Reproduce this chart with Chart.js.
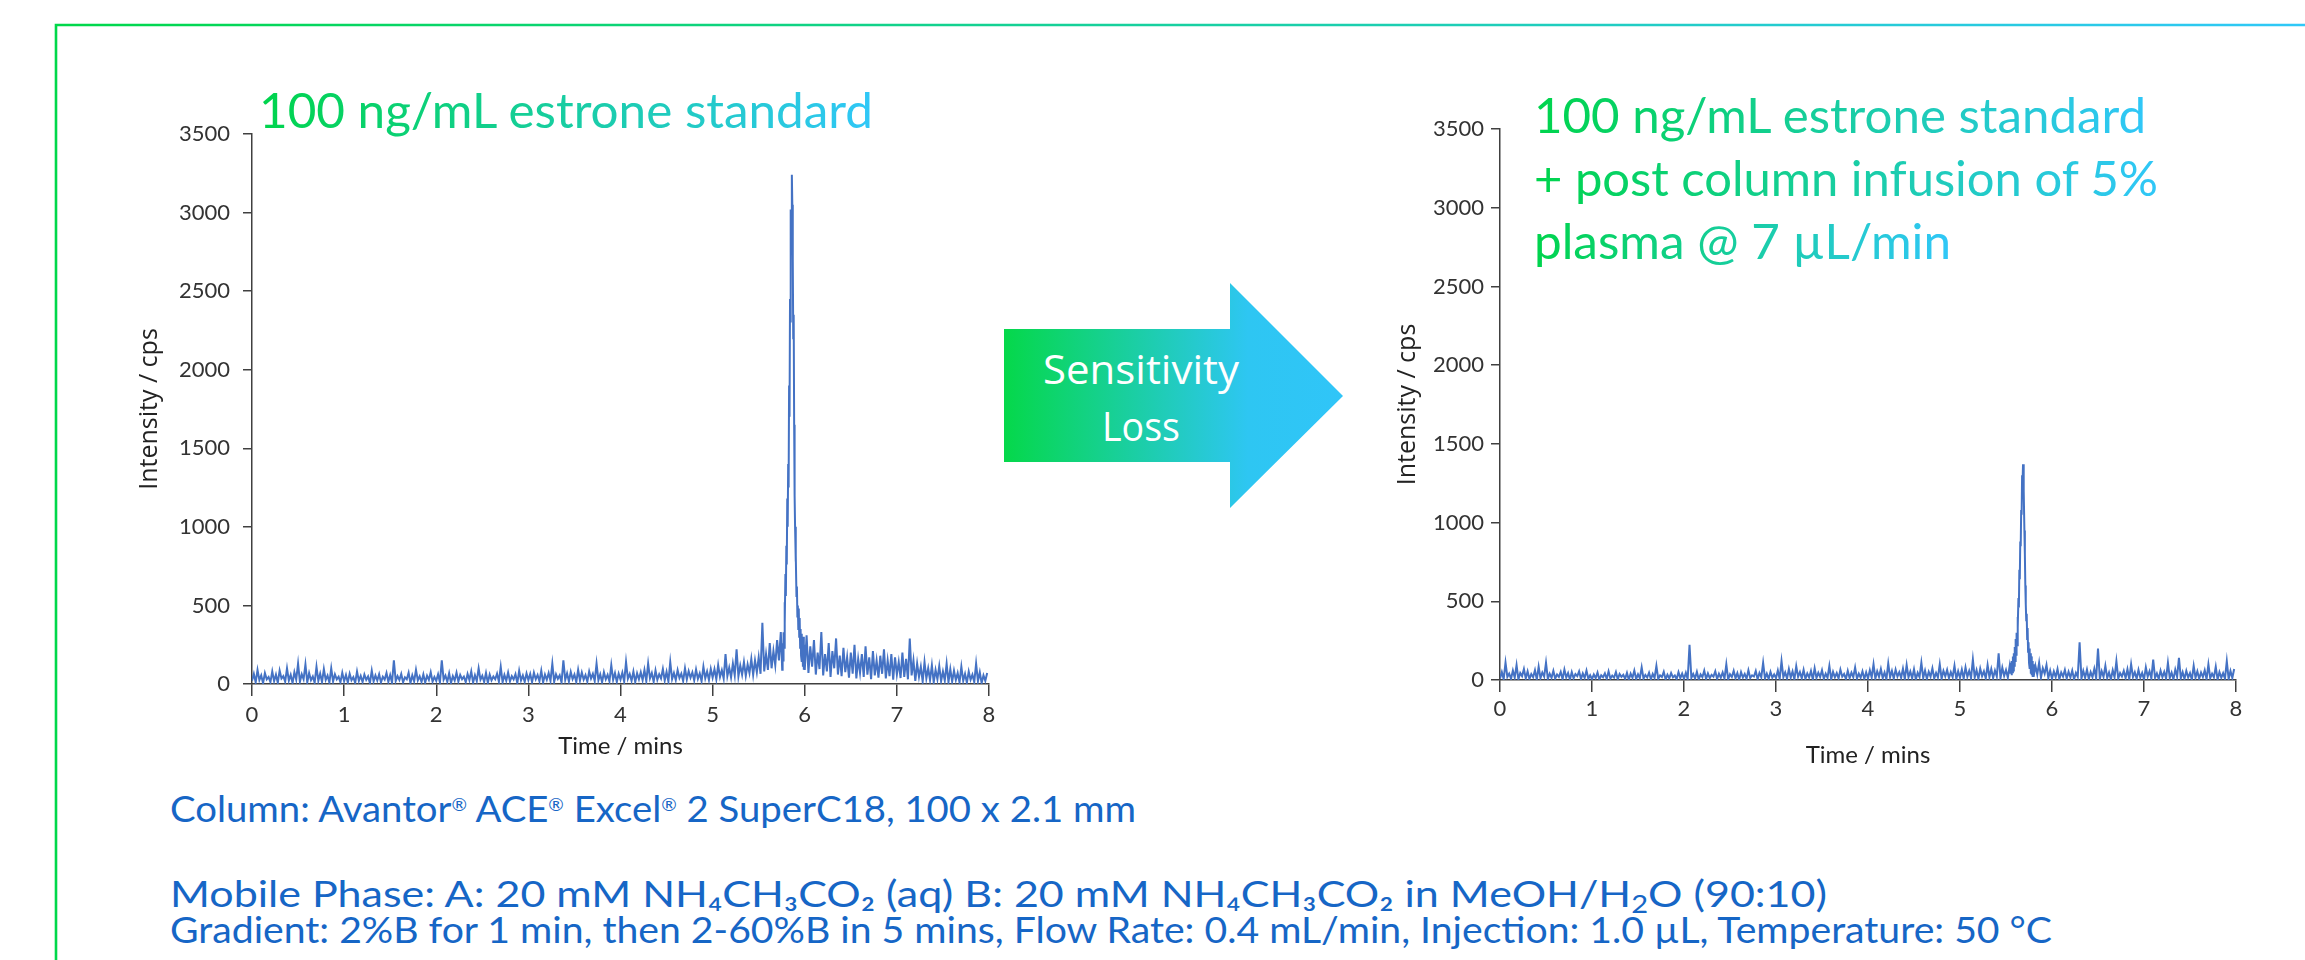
<!DOCTYPE html>
<html>
<head>
<meta charset="utf-8">
<script src="https://cdn.jsdelivr.net/npm/chart.js@4.4.1/dist/chart.umd.min.js"></script>
<style>
  html, body { margin: 0; padding: 0; background: #ffffff; }
  #wrap { position: relative; width: 2305px; height: 960px; overflow: hidden; background: #fff; }
  #wrap svg, #wrap canvas { position: absolute; left: 0; top: 0; }
</style>
</head>
<body>
<div id="wrap">
<svg id="deco" width="2305" height="960" xmlns="http://www.w3.org/2000/svg">
  <defs>
    <linearGradient id="gBorder" gradientUnits="userSpaceOnUse" x1="56" y1="0" x2="2305" y2="0">
      <stop offset="0" stop-color="#00d84a"/>
      <stop offset="1" stop-color="#2fc8f8"/>
    </linearGradient>
    <linearGradient id="gText" x1="0" y1="0" x2="1" y2="0">
      <stop offset="0" stop-color="#00d44c"/>
      <stop offset="1" stop-color="#30c7f8"/>
    </linearGradient>
    <linearGradient id="gArrow" gradientUnits="userSpaceOnUse" x1="1004" y1="0" x2="1343" y2="0">
      <stop offset="0" stop-color="#05d84a"/>
      <stop offset="0.72" stop-color="#2ec6f2"/>
      <stop offset="1" stop-color="#30c5f8"/>
    </linearGradient>
  </defs>
  <path d="M56,1000 L56,25 L2400,25" fill="none" stroke="url(#gBorder)" stroke-width="2.6"/>
  <text x="259" y="128" font-family="Lato" font-size="48" fill="url(#gText)" textLength="614" lengthAdjust="spacingAndGlyphs">100 ng/mL estrone standard</text>
  <text x="1534" y="133" font-family="Lato" font-size="48" fill="url(#gText)" textLength="612" lengthAdjust="spacingAndGlyphs">100 ng/mL estrone standard</text>
  <text x="1534" y="196" font-family="Lato" font-size="48" fill="url(#gText)" textLength="624" lengthAdjust="spacingAndGlyphs">+ post column infusion of 5%</text>
  <text x="1534" y="259" font-family="Lato" font-size="48" fill="url(#gText)" textLength="417" lengthAdjust="spacingAndGlyphs">plasma @ 7 µL/min</text>
  <polygon points="1004,329 1230,329 1230,283 1343,396 1230,508 1230,462 1004,462" fill="url(#gArrow)"/>
  <text x="1141" y="384" font-family="Open Sans" font-size="40" fill="#ffffff" text-anchor="middle" textLength="196" lengthAdjust="spacingAndGlyphs">Sensitivity</text>
  <text x="1141" y="441" font-family="Open Sans" font-size="40" fill="#ffffff" text-anchor="middle" textLength="78" lengthAdjust="spacingAndGlyphs">Loss</text>
  <g font-family="Lato" font-size="37" fill="#1666c6">
    <text x="170" y="822" textLength="966" lengthAdjust="spacingAndGlyphs">Column: Avantor<tspan font-size="18" baseline-shift="60%">®</tspan> ACE<tspan font-size="18" baseline-shift="60%">®</tspan> Excel<tspan font-size="18" baseline-shift="60%">®</tspan> 2 SuperC18, 100 x 2.1 mm</text>
    <text x="170" y="907" textLength="1657" lengthAdjust="spacingAndGlyphs">Mobile Phase: A: 20 mM NH₄CH₃CO₂ (aq) B: 20 mM NH₄CH₃CO₂ in MeOH/H<tspan font-size="25" baseline-shift="-22%">2</tspan>O (90:10)</text>
    <text x="170" y="943" textLength="1882" lengthAdjust="spacingAndGlyphs">Gradient: 2%B for 1 min, then 2-60%B in 5 mins, Flow Rate: 0.4 mL/min, Injection: 1.0 µL, Temperature: 50 °C</text>
  </g>
</svg>
<canvas id="c1" width="2305" height="960"></canvas>
<canvas id="c2" width="2305" height="960"></canvas>
</div>
<script>
// ---------- DATA ----------
const xTicks = [0, 1, 2, 3, 4, 5, 6, 7, 8];
const yTicks = [0, 500, 1000, 1500, 2000, 2500, 3000, 3500];

// Left chromatogram: 100 ng/mL estrone standard (intensity, cps)
const leftNoiseAStart = 0.00, leftNoiseAStep = 0.02;   // 0.00 – 5.74 min
const leftNoiseA = [
  20,65,10,90,25,55,5,70,30,45, 12,80,18,60,8,85,35,50,15,100, 22,58,6,75,28,130,14,62,30,125, 10,70,24,48,8,110,20,66,12,95, 26,54,9,100,16,62,30,47,11,72,
  18,58,9,66,24,44,7,80,20,52, 12,60,27,48,5,85,16,55,22,62, 10,46,28,70,14,57,8,150,19,50, 25,64,11,42,30,72,6,55,17,90, 23,49,13,61,9,53,26,75,15,45,
  20,62,10,150,28,54,14,68,7,50, 22,72,16,58,31,47,12,64,25,80, 9,56,19,100,27,52,13,70,8,60, 24,48,30,66,15,110,11,58,21,73, 17,50,29,62,6,84,23,55,14,67,
  25,64,12,72,30,58,18,85,10,60, 27,70,20,130,14,62,33,55,9,150, 26,68,16,77,31,60,12,90,22,73, 28,57,15,80,35,65,19,130,24,62, 11,75,30,58,17,120,26,70,13,66,
  28,72,15,140,33,64,20,80,12,68, 30,75,24,90,18,130,36,70,14,86, 27,62,35,95,22,78,16,140,31,70, 25,88,38,66,19,100,29,82,40,74, 23,92,33,68,17,110,36,80,26,96,
  40,95,30,120,45,88,35,190,50,105, 42,130,55,220,48,118,60,140,52,125, 70,160,58,150,75,170,65,390,80,190, 90,260,100,210,120,280,150,330
];
const leftPeakStart = 5.75, leftPeakStep = 0.005;      // 5.750 – 5.995 min
const leftPeak = [
  180,90,260,150,330,230,520,380,700,560, 880,760,1180,1000,1400,1250,1900,1700,2450,2300,
  3020,2850,3240,3050,2700,2200,2350,1650,1200,1000, 780,820,560,620,430,500,350,480,300,420,
  230,350,180,320,140,260,110,300,90,250
];
const leftNoiseBStart = 6.00, leftNoiseBStep = 0.02;   // 6.00 – 7.98 min
const leftNoiseB = [
  90,310,70,240,110,280,60,200,95,330, 55,190,80,260,45,210,100,290,60,180,
  50,230,75,170,40,200,65,250,35,160, 70,190,45,240,60,170,30,210,55,150,
  40,180,65,220,35,150,50,190,28,170, 60,140,38,200,45,160,30,290,55,150,
  20,130,45,110,15,140,35,100,25,120, 10,90,30,115,18,80,22,130,12,95,
  15,85,25,70,10,110,20,65,8,80, 28,60,12,130,18,75,6,55,20,70
];

// Right chromatogram: + post column infusion of 5% plasma (intensity, cps)
const rightNoiseAStart = 0.00, rightNoiseAStep = 0.02; // 0.00 – 5.54 min
const rightNoiseA = [
  10,50,5,110,20,40,8,60,15,95, 4,45,25,70,10,55,6,38,18,62, 3,85,12,48,22,110,7,40,14,58, 9,35,20,52,5,66,16,44,2,50, 11,37,24,55,6,42,13,60,8,30,
  5,35,12,48,3,30,18,42,7,55, 10,28,15,50,4,38,20,33,8,45, 2,40,14,60,6,36,11,80,9,32, 16,47,5,39,13,90,7,30,19,52, 4,34,10,44,17,29,6,50,12,41,
  8,46,5,224,14,38,10,52,3,35, 18,60,7,42,12,33,21,55,6,40, 15,48,9,100,4,37,19,58,11,44, 2,50,16,39,8,62,13,30,22,57, 5,45,17,110,10,40,7,52,14,36,
  12,60,6,120,18,48,9,70,15,55, 4,88,20,50,11,65,7,42,16,58, 3,75,13,46,19,62,8,40,14,90, 5,52,17,44,10,66,21,38,6,58, 12,47,18,80,9,41,15,55,7,49,
  10,62,16,100,8,55,20,70,12,48, 5,105,18,58,9,66,22,50,14,72, 6,95,17,54,11,68,3,46,19,110, 13,60,7,52,21,74,10,45,16,100, 8,58,23,64,12,50,18,90,6,56,
  14,66,9,80,20,58,12,130,16,62, 7,72,24,55,10,95,18,70,13,60, 22,170,11,78,26,64,15,90
];
const rightPeakStart = 5.55, rightPeakStep = 0.005;    // 5.550 – 5.795 min
const rightPeak = [
  40,110,30,120,50,150,60,170,90,210, 120,260,160,300,220,400,330,520,460,700,
  640,880,850,1080,1050,1300,1250,1370,1320,1200, 950,800,600,480,380,420,260,330,180,240,
  110,200,70,170,40,150,30,120,20,100
];
const rightNoiseBStart = 5.80, rightNoiseBStep = 0.02; // 5.80 – 7.98 min
const rightNoiseB = [
  20,90,35,110,15,75,40,95,12,60,
  8,55,18,70,5,48,22,64,10,52, 16,60,4,45,20,240,9,58,14,66,
  6,50,18,72,11,200,7,56,20,90, 13,48,4,62,17,120,9,44,22,58,
  12,68,5,100,19,50,8,64,15,45, 3,80,21,56,10,130,14,42,6,60,
  18,52,9,110,13,47,4,66,20,140, 11,50,7,58,16,44,2,90,14,55,
  8,48,19,62,5,100,12,40,17,85, 3,50,15,44,9,120,6,57,13,70
];

// ---------- BUILD ----------
function seg(start, step, vals) {
  return vals.map((v, i) => ({ x: +(start + i * step).toFixed(4), y: v }));
}
const leftData = [
  ...seg(leftNoiseAStart, leftNoiseAStep, leftNoiseA),
  ...seg(leftPeakStart, leftPeakStep, leftPeak),
  ...seg(leftNoiseBStart, leftNoiseBStep, leftNoiseB)
];
const rightData = [
  ...seg(rightNoiseAStart, rightNoiseAStep, rightNoiseA),
  ...seg(rightPeakStart, rightPeakStep, rightPeak),
  ...seg(rightNoiseBStart, rightNoiseBStep, rightNoiseB)
];

const AXIS = '#404040';
function makeChart(canvasId, data, g) {
  return new Chart(document.getElementById(canvasId), {
    type: 'line',
    data: { datasets: [{
      data: data, borderColor: '#4472C4', borderWidth: 2,
      pointRadius: 0, fill: false, tension: 0
    }]},
    options: {
      responsive: false, animation: false, devicePixelRatio: 1,
      layout: { padding: { left: g.padL, right: g.padR, top: g.padT, bottom: g.padB } },
      plugins: { legend: { display: false }, tooltip: { enabled: false } },
      scales: {
        x: {
          type: 'linear', min: xTicks[0], max: xTicks[xTicks.length - 1],
          afterBuildTicks: s => { s.ticks = xTicks.map(v => ({ value: v })); },
          afterFit: s => { s.height = g.xH; },
          ticks: { color: '#333', font: { family: 'Lato', size: 22 }, padding: g.xTickPad, maxRotation: 0, autoSkip: false, callback: v => String(v) },
          grid: { drawOnChartArea: false, drawTicks: true, tickLength: 12, color: AXIS, lineWidth: 1.5 },
          border: { color: AXIS, width: 1.5 },
          title: { display: true, text: 'Time / mins', color: '#222', font: { family: 'Lato', size: 24 }, padding: { top: 0, bottom: g.xTitlePad } }
        },
        y: {
          type: 'linear', min: yTicks[0], max: yTicks[yTicks.length - 1],
          afterBuildTicks: s => { s.ticks = yTicks.map(v => ({ value: v })); },
          afterFit: s => { s.width = g.yW; },
          ticks: { color: '#333', font: { family: 'Lato', size: 22 }, padding: g.yTickPad, autoSkip: false, callback: v => String(v) },
          grid: { drawOnChartArea: false, drawTicks: true, tickLength: 9, color: AXIS, lineWidth: 1.5 },
          border: { color: AXIS, width: 1.5 },
          title: { display: true, text: 'Intensity / cps', color: '#222', font: { family: 'Open Sans', size: 25 }, padding: { top: g.yTitlePad, bottom: 0 } }
        }
      }
    }
  });
}

// Left plot area: x 252–989, y 134–684 ; right plot area: x 1500–2236, y 129–680
makeChart('c1', leftData, { padL: 122, padR: 2305 - 989, padT: 134, padB: 960 - 684 - 100, xH: 100, yW: 130, xTickPad: 6, yTickPad: 13, xTitlePad: 23, yTitlePad: 13 });
makeChart('c2', rightData, { padL: 1370, padR: 2305 - 2236, padT: 129, padB: 960 - 680 - 100, xH: 100, yW: 130, xTickPad: 4, yTickPad: 7, xTitlePad: 10, yTitlePad: 23 });
</script>
</body>
</html>
